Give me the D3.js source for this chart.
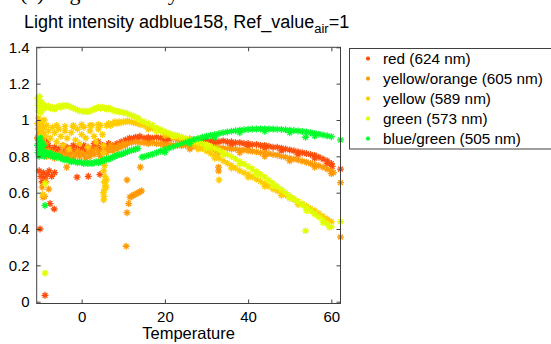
<!DOCTYPE html>
<html><head><meta charset="utf-8">
<script src="https://cdn.jsdelivr.net/npm/d3@7"></script>
<style>
html,body{margin:0;padding:0;background:#fff;}
svg{display:block;}
text{font-family:"Liberation Sans",Arial,Helvetica,sans-serif;fill:#000;}
</style></head>
<body>
<svg id="chart" width="551" height="344"></svg>
<script>
// ---------- data (temperature, relative intensity) ----------
const seriesNames = ["red (624 nm)","yellow/orange (605 nm)","yellow (589 nm)","green (573 nm)","blue/green (505 nm)"];
const seriesColors = ["#ff4d0a","#ff9a05","#ffcc00","#e0ff00","#00ff2a"];
const xTicks = [0,20,40,60];
const yTicks = [0,0.2,0.4,0.6,0.8,1,1.2,1.4];
const yTickLabels = ["0","0.2","0.4","0.6","0.8","1","1.2","1.4"];

const red = [
[-10.6,0.9],[-10.4,0.87],[-10.2,0.92],[-10.0,0.89],[-9.8,0.86],[-9.6,0.91],[-9.4,0.88],[-9.2,0.9],[-9.0,0.87],[-8.7,0.85],[-8.4,0.88],[-8.0,0.86],[-7.6,0.84],
[-10.2,0.72],[-9.8,0.69],[-9.5,0.66],[-9.2,0.71],[-8.8,0.68],[-8.3,0.7],[-7.8,0.72],[-7.2,0.69],[-6.5,0.71],
[-10.0,0.4],[-8.8,0.035],[-7.6,0.54],[-6.6,0.51],[-1.1,0.685],[1.6,0.69],[4.4,0.7],
[-7,0.83],[-6.5,0.85],[-6,0.82],[-5.5,0.84],[-5,0.81],[-4.5,0.86],[-4,0.83],[-3.5,0.85],[-3,0.82],[-2.5,0.84],[-2,0.86],[-1.5,0.83],[-1,0.85],[-0.5,0.82],[0,0.84],[0.5,0.86],[1,0.83],[1.5,0.85],[2,0.82],[2.5,0.84],[3,0.87],[3.5,0.85],[4,0.88],[4.5,0.84],[5,0.86],[5.5,0.83],[6,0.85],[6.5,0.87],[7,0.84],[7.5,0.86],[8,0.85],[8.5,0.87],[9,0.86],[9.5,0.88],[10,0.87],[10.5,0.89],[11,0.88],[11.5,0.9],[12,0.89],[12.5,0.9],[13,0.905],[13.5,0.9],[14,0.91],
[15,0.9],[16,0.905],[17,0.9],[18,0.905],[19,0.9],[20,0.9],[21,0.895],[22,0.9],[23,0.895],[24,0.895],[25,0.89],[26,0.895],[27,0.89],[28,0.89],[29,0.885],[30,0.89],[31,0.885],[32,0.885],[33,0.88],[34,0.885],[35,0.88],[36,0.88],[37,0.875],[38,0.875],[39,0.87],[40,0.87],[41,0.865],[42,0.865],[43,0.86],[44,0.86],[45,0.855],[46,0.85],[47,0.85],[48,0.845],[49,0.84],[50,0.835],[51,0.83],[52,0.825],[53,0.82],[54,0.815],[55,0.81],[56,0.805],[57,0.795],[58,0.785],[59,0.775],[60,0.76],
[16,0.885],[20,0.88],[24,0.878],[28,0.872],[32,0.868],[36,0.862],[40,0.855],[44,0.845],[48,0.83],[52,0.81],[56,0.79],[59,0.76],[60.2,0.745],
[62.2,0.73]
];

const yellowOrange = [
[-10.6,0.9],[-10.4,0.95],[-10.2,0.98],[-10,0.86],[-9.8,0.93],[-9.6,0.88],[-9.4,0.84],[-9.2,0.96],[-9,0.82],[-8.7,0.87],[-8.4,0.8],[-8,0.83],
[-7.5,0.8],[-7,0.82],[-6.5,0.79],[-6,0.81],[-5.5,0.8],[-5,0.82],[-4.5,0.79],[-4,0.81],[-3.5,0.83],[-3,0.8],[-2.5,0.82],[-2,0.79],[-1.5,0.81],[-1,0.83],[-0.5,0.8],[0,0.82],[0.5,0.81],[1,0.79],[1.5,0.82],[2,0.8],[2.5,0.83],[3,0.81],[3.5,0.84],[4,0.82],[4.5,0.8],[5,0.83],[5.5,0.85],[6,0.82],[6.5,0.84],[7,0.86],[7.5,0.83],[8,0.85],[8.5,0.84],[9,0.86],[9.5,0.85],[10,0.87],[10.5,0.86],[11,0.87],
[-9.3,0.575],[-8.9,0.58],[-9.5,0.63],[-8.6,0.66],[-7.9,0.62],[-3.6,0.74],[-0.5,0.77],[10.9,0.67],[10.7,0.305],[10.9,0.49],[11.3,0.54],[14.1,0.74],[32.9,0.72],[32.9,0.74],[32.9,0.82],
[11.6,0.575],[12,0.58],[12.4,0.585],[12.8,0.59],[13.2,0.595],[13.6,0.6],[14,0.605],[14.4,0.61],
[12,0.875],[13,0.88],[14,0.875],[15,0.875],[16,0.87],[17,0.875],[18,0.87],[19,0.868],[20,0.865],[21,0.865],[22,0.862],[23,0.86],[24,0.858],[25,0.86],[26,0.855],[27,0.855],[28,0.852],[29,0.85],[30,0.85],[31,0.848],[32,0.848],[33,0.846],[34,0.845],[35,0.843],[36,0.84],[37,0.84],[38,0.836],[39,0.835],[40,0.83],[41,0.828],[42,0.825],[43,0.82],[44,0.818],[45,0.815],[46,0.81],[47,0.806],[48,0.8],[49,0.796],[50,0.79],[51,0.785],[52,0.78],[53,0.774],[54,0.768],[55,0.76],[56,0.755],[57,0.748],[58,0.74],[59,0.73],[60,0.72],
[20,0.85],[26,0.84],[32,0.835],[38,0.82],[44,0.8],[50,0.775],[56,0.74],[60,0.705],[60.5,0.71],
[62.2,0.655],[62.2,0.355]
];

const yellow = [
[-10.6,0.98],[-10.4,1.01],[-10.2,0.95],[-10,0.92],[-9.8,0.99],[-9.6,0.89],[-9.4,0.96],[-9.2,0.93],[-9,1.0],[-8.7,0.91],[-8.4,0.97],[-8,0.94],[-7.5,0.9],[-7,0.96],[-6.5,0.93],[-6,0.88],[-5.5,0.95],[-5,0.91],[-4.5,0.86],[-4,0.94],[-3.5,0.9],[-3,0.84],[-2.5,0.93],[-2,0.96],[-1.5,0.89],[-1,0.95],[-0.5,0.87],[0,0.92],[0.5,0.96],[1,0.9],[1.5,0.85],[2,0.94],[2.5,0.97],[3,0.91],[3.5,0.88],[4,0.95],[4.5,0.97],[5,0.92],
[-6,0.97],[-4,0.965],[-2,0.97],[0,0.975],[2,0.97],[4,0.975],
[5.2,0.86],[5.3,0.82],[5.4,0.78],[5.5,0.75],[5.3,0.72],[5.6,0.69],[5.4,0.66],[5.7,0.64],[5.5,0.62],[5.2,0.6],[5.4,0.58],[5.3,0.56],[5.9,0.63],[6,0.67],[-9.3,0.59],[33,0.67],
[6,0.97],[6.5,0.98],[7,0.97],[7.5,0.98],[8,0.99],[8.5,0.98],[9,0.99],[9.5,0.985],[10,0.99],[10.5,0.99],[11,0.995],[11.5,0.99],[12,0.99],[12.5,0.985],[13,0.985],[13.5,0.98],
[14,0.975],[15,0.97],[16,0.962],[17,0.955],[18,0.948],[19,0.94],[20,0.93],[21,0.92],[22,0.91],[23,0.9],[24,0.89],[25,0.882],[26,0.874],[27,0.864],[28,0.855],[29,0.843],[30,0.83],[31,0.816],[32,0.802],[33,0.79],[34,0.776],[35,0.762],[36,0.75],[37,0.735],[38,0.72],[39,0.71],[40,0.7],[41,0.688],[42,0.675],[43,0.662],[44,0.65],[45,0.635],[46,0.62],[47,0.61],[48,0.6],[49,0.588],[50,0.575],[51,0.562],[52,0.55],[53,0.538],[54,0.525],[55,0.512],[56,0.5],[57,0.485],[58,0.47],[59,0.455],[60,0.44],
[16,0.95],[20,0.915],[24,0.875],[28,0.84],[32,0.79],[36,0.735],[40,0.685],[44,0.635],[48,0.585],[52,0.535],[56,0.485],[59,0.45]
];

const green = [
[-10.6,1.12],[-10.5,1.08],[-10.4,1.05],[-10.3,1.1],[-10.1,1.13],[-10,1.07],[-9.8,1.04],[-9.6,1.1],[-9.4,1.08],[-9.2,1.06],
[-9,1.08],[-8.5,1.07],[-8,1.075],[-7.5,1.065],[-7,1.07],[-6.5,1.06],[-6,1.07],[-5.5,1.075],[-5,1.07],[-4.5,1.08],[-4,1.075],[-3.5,1.08],[-3,1.075],[-2.5,1.07],[-2,1.065],[-1.5,1.06],[-1,1.055],[-0.5,1.05],[0,1.05],[0.5,1.045],[1,1.05],[1.5,1.045],[2,1.05],[2.5,1.055],[3,1.06],[3.5,1.065],[4,1.07],[4.5,1.065],[5,1.07],[5.5,1.065],[6,1.06],[6.5,1.065],[7,1.06],[7.5,1.055],[8,1.05],[8.5,1.05],[9,1.045],[9.5,1.045],[10,1.04],[10.5,1.04],[11,1.035],[11.5,1.03],[12,1.025],[12.5,1.02],[13,1.015],[13.5,1.01],[14,1.0],
[15,0.99],[16,0.98],[17,0.97],[18,0.955],[19,0.945],[20,0.935],[21,0.928],[22,0.92],[23,0.915],[24,0.908],[25,0.9],[26,0.893],[27,0.886],[28,0.878],[29,0.87],[30,0.862],[31,0.853],[32,0.843],[33,0.833],[34,0.822],[35,0.81],[36,0.798],[37,0.785],[38,0.772],[39,0.758],[40,0.744],[41,0.73],[42,0.715],[43,0.7],[44,0.685],[45,0.668],[46,0.652],[47,0.635],[48,0.618],[49,0.6],[50,0.583],[51,0.566],[52,0.55],[53,0.533],[54,0.516],[55,0.5],[56,0.483],[57,0.466],[58,0.448],[59,0.43],[60,0.412],
[18,0.94],[22,0.905],[26,0.88],[30,0.848],[34,0.808],[38,0.758],[42,0.7],[46,0.636],[50,0.568],[54,0.502],[58,0.435],[59.5,0.41],
[-8.8,0.65],[-8.8,0.157],[53.8,0.39],[62.2,0.44]
];

const blueGreen = [
[-10.6,0.86],[-10.5,0.82],[-10.4,0.89],[-10.3,0.84],[-10.2,0.8],[-10.1,0.87],[-10,0.83],[-9.9,0.9],[-9.8,0.85],[-9.7,0.81],[-9.6,0.88],[-9.5,0.84],[-9.3,0.82],[-9.1,0.86],[-9,0.8],
[-8.5,0.82],[-8,0.81],[-7.5,0.815],[-7,0.8],[-6.5,0.805],[-6,0.795],[-5.5,0.8],[-5,0.79],[-4.5,0.785],[-4,0.78],[-3.5,0.785],[-3,0.775],[-2.5,0.77],[-2,0.775],[-1.5,0.77],[-1,0.765],[-0.5,0.77],[0,0.765],[0.5,0.76],[1,0.765],[1.5,0.76],[2,0.765],[2.5,0.76],[3,0.765],[3.5,0.77],[4,0.765],[4.5,0.77],[5,0.775],[5.5,0.78],[6,0.785],[6.5,0.785],[7,0.79],[7.5,0.795],[8,0.8],[8.5,0.805],[9,0.81],[9.5,0.81],[10,0.815],[10.5,0.82],[11,0.825],[11.5,0.83],[12,0.833],[12.5,0.836],[13,0.84],[13.5,0.843],
[14.5,0.795],[15,0.798],[16,0.805],[17,0.812],[18,0.82],[19,0.828],[20,0.836],[21,0.845],[22,0.853],[23,0.862],[24,0.87],[25,0.877],[26,0.885],[27,0.892],[28,0.898],[29,0.905],[30,0.91],[31,0.915],[32,0.92],[33,0.925],[34,0.93],[35,0.934],[36,0.938],[37,0.941],[38,0.944],[39,0.946],[40,0.948],[41,0.95],[42,0.95],[43,0.951],[44,0.951],[45,0.95],[46,0.95],[47,0.949],[48,0.948],[49,0.946],[50,0.944],[51,0.942],[52,0.94],[53,0.937],[54,0.934],[55,0.93],[56,0.926],[57,0.922],[58,0.918],[59,0.913],[60,0.908],
[20,0.822],[26,0.87],[32,0.906],[38,0.93],[44,0.938],[50,0.93],[56,0.912],
[53.8,0.905],[62.2,0.89],[-8.8,0.53]
];

const allSeries = [red, yellowOrange, yellow, green, blueGreen];

// ---------- layout ----------
const svg = d3.select("#chart");
const L = 36.7, R = 340.5, T = 47.3, B = 303.5;
const x = d3.scaleLinear().domain([-10.8, 62.2]).range([L, R]);
const y = d3.scaleLinear().domain([-0.01, 1.4]).range([B, T]);

const star = "M-3.5,0H3.5M0,-3.5V3.5M-2.4,-2.4L2.4,2.4M-2.4,2.4L2.4,-2.4";

// cut-off figure caption at the very top
svg.append("text").attr("x", 20).attr("y", 0)
  .style("font-family", "'Liberation Serif','Times New Roman',serif")
  .style("font-size", "22px").text("(c) Light intensity");

// title
const title = svg.append("text").attr("x", 24).attr("y", 28).style("font-size", "18px");
title.append("tspan").text("Light intensity adblue158, Ref_value");
title.append("tspan").attr("dy", 5).style("font-size", "13px").text("air");
title.append("tspan").attr("dy", -5).text("=1");

// points
const plot = svg.append("g");
allSeries.forEach((s, i) => {
  plot.append("g").selectAll("path").data(s).join("path")
    .attr("d", star)
    .attr("transform", d => `translate(${x(d[0])},${y(d[1])})`)
    .attr("fill", "none").attr("stroke", seriesColors[i]).attr("stroke-width", 1.3);
});

// axes box and inward ticks (all four sides)
const axisColor = "#404040";
const axBottom = d3.axisBottom(x).tickValues(xTicks).tickSize(-4).tickPadding(8).tickFormat(d3.format("d"));
const axTop = d3.axisTop(x).tickValues(xTicks).tickSize(-4).tickFormat("");
const axLeft = d3.axisLeft(y).tickValues(yTicks).tickSize(-4).tickPadding(7).tickFormat((d, i) => yTickLabels[i]);
const axRight = d3.axisRight(y).tickValues(yTicks).tickSize(-4).tickFormat("");
function styleAxis(g) {
  g.select(".domain").remove();
  g.selectAll("line").attr("stroke", axisColor);
  g.selectAll("text").style("font-size", "15px").style("font-family", "'Liberation Sans',Arial,sans-serif").attr("fill", "#000");
}
svg.append("g").attr("transform", `translate(0,${B})`).call(axBottom).call(styleAxis);
svg.append("g").attr("transform", `translate(0,${T})`).call(axTop).call(styleAxis);
svg.append("g").attr("transform", `translate(${L},0)`).call(axLeft).call(styleAxis);
svg.append("g").attr("transform", `translate(${R},0)`).call(axRight).call(styleAxis);
svg.append("rect").attr("x", L).attr("y", T).attr("width", R - L).attr("height", B - T)
  .attr("fill", "none").attr("stroke", axisColor).attr("stroke-width", 1);

// x label
svg.append("text").attr("x", (L + R) / 2).attr("y", 339).attr("text-anchor", "middle")
  .style("font-size", "16.5px").text("Temperature");

// legend
const lg = svg.append("g");
lg.append("rect").attr("x", 349.5).attr("y", 48.5).attr("width", 220).attr("height", 100.5)
  .attr("fill", "#fff").attr("stroke", axisColor).attr("stroke-width", 1);
seriesNames.forEach((name, i) => {
  const cy = 58.5 + i * 20;
  lg.append("path").attr("d", "M-2,0H2M0,-2V2M-1.5,-1.5L1.5,1.5M-1.5,1.5L1.5,-1.5")
    .attr("transform", `translate(368,${cy})`).attr("fill", "none")
    .attr("stroke", seriesColors[i]).attr("stroke-width", 1.2);
  lg.append("text").attr("x", 383).attr("y", cy).attr("dy", "0.35em")
    .style("font-size", "15.3px").text(name);
});
</script>
</body></html>
